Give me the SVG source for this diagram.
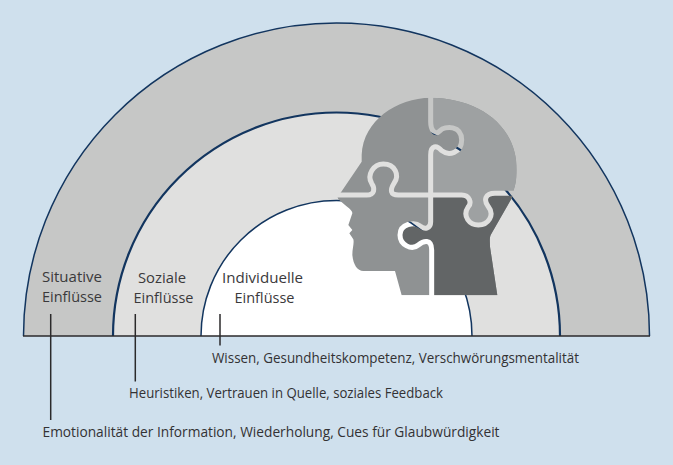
<svg xmlns="http://www.w3.org/2000/svg" width="673" height="465" viewBox="0 0 673 465">
<style>
text{font-family:"Open Sans","Noto Sans","Liberation Sans",sans-serif;font-size:13.7px;fill:#333234}
.l{font-size:14.6px;fill:#3a393b;text-anchor:middle}
.tick{stroke:#2b2a2b;stroke-width:1.5;fill:none}
.arc{stroke:#12355f;fill:none}
</style>
<defs>
<path id="sil" d="M332 53C470 55 590 130 590 270C590 300 585 320 578 340L575 355L512 465C508 475 510 490 510 500L532 646H245L225 573H130C112 572 100 555 97 525C97 505 103 490 100 478L88 460L97 450L85 435L97 400C97 390 85 385 55 358L50 345L62 338L125 245L125 225C130 120 230 55 332 53Z"/>
<clipPath id="headClip"><use href="#sil"/></clipPath>
<mask id="gaps" maskUnits="userSpaceOnUse" x="0" y="0" width="700" height="700">
<rect x="0" y="0" width="700" height="700" fill="#fff"/>
<g fill="none" stroke="#000" stroke-width="15">
<path d="M332 40V125C332 150 345 168 360 152C375 137 425 135 425 180C425 220 385 228 365 212C350 195 332 195 332 225V345"/>
<path d="M332 345H425C450 345 455 370 445 380C425 410 450 435 475 435C505 435 525 405 505 380C490 360 495 340 525 340H600"/>
<path d="M40 345H140C165 345 165 325 155 310C140 285 160 252 190 252C225 252 240 285 222 310C210 330 210 345 235 345H332"/>
<path d="M332 345V425C332 445 315 450 300 438C285 425 240 430 240 465C240 495 275 512 295 495C310 482 335 475 335 510V660"/>
</g>
</mask>
</defs>
<rect width="673" height="465" fill="#cfe0ed"/>
<g id="rings">
<path id="ring-situativ" d="M23.5 336A313 313 0 0 1 649.5 336Z" fill="#c6c7c6"/>
<path class="arc" stroke-width="1.5" d="M23.5 336A313 313 0 0 1 649.5 336"/>
<path id="ring-sozial" d="M113 336A223.5 223.5 0 0 1 560 336Z" fill="#e0e0df"/>
<path class="arc" stroke-width="2.2" d="M113 336A223.5 223.5 0 0 1 560 336"/>
<path id="ring-individuell" d="M201 336A135.5 135.5 0 0 1 472 336Z" fill="#fff"/>
<path class="arc" stroke-width="1.5" d="M201 336A135.5 135.5 0 0 1 472 336"/>
</g>
<g id="head" transform="translate(320 80) scale(.33333)">
<g mask="url(#gaps)">
<g clip-path="url(#headClip)">
<rect x="0" y="0" width="700" height="700" fill="#8f9293"/>
<path fill="#9ea1a2" d="M332 40V125C332 150 345 168 360 152C375 137 425 135 425 180C425 220 385 228 365 212C350 195 332 195 332 225V345H425C450 345 455 370 445 380C425 410 450 435 475 435C505 435 525 405 505 380C490 360 495 340 525 340H650V40Z"/>
<path fill="#626566" d="M332 345H425C450 345 455 370 445 380C425 410 450 435 475 435C505 435 525 405 505 380C490 360 495 340 525 340H650V660H335V510C335 475 310 482 295 495C275 512 240 495 240 465C240 430 285 425 300 438C315 450 332 445 332 425Z"/>
</g>
</g>
</g>
<g id="connectors">
<path class="tick" d="M23 336H650"/>
<path class="tick" d="M50.7 314V420"/>
<path class="tick" d="M135.3 314V381.5"/>
<path class="tick" d="M220 314V345.5"/>
</g>
<g id="situative"><text class="l" x="72" y="282" textLength="60" lengthAdjust="spacingAndGlyphs">Situative</text><text class="l" x="72" y="302" textLength="60" lengthAdjust="spacingAndGlyphs">Einflüsse</text></g>
<g id="soziale"><text class="l" x="162" y="283" textLength="48" lengthAdjust="spacingAndGlyphs">Soziale</text><text class="l" x="163.5" y="303" textLength="60" lengthAdjust="spacingAndGlyphs">Einflüsse</text></g>
<g id="individuelle"><text class="l" x="262.5" y="283" textLength="81" lengthAdjust="spacingAndGlyphs">Individuelle</text><text class="l" x="264.5" y="303" textLength="60" lengthAdjust="spacingAndGlyphs">Einflüsse</text></g>
<g id="details">
<text x="212" y="363" textLength="367" lengthAdjust="spacingAndGlyphs">Wissen, Gesundheitskompetenz, Verschwörungsmentalität</text>
<text x="129" y="398" textLength="314" lengthAdjust="spacingAndGlyphs">Heuristiken, Vertrauen in Quelle, soziales Feedback</text>
<text x="42.5" y="437" textLength="457" lengthAdjust="spacingAndGlyphs">Emotionalität der Information, Wiederholung, Cues für Glaubwürdigkeit</text>
</g>
</svg>
